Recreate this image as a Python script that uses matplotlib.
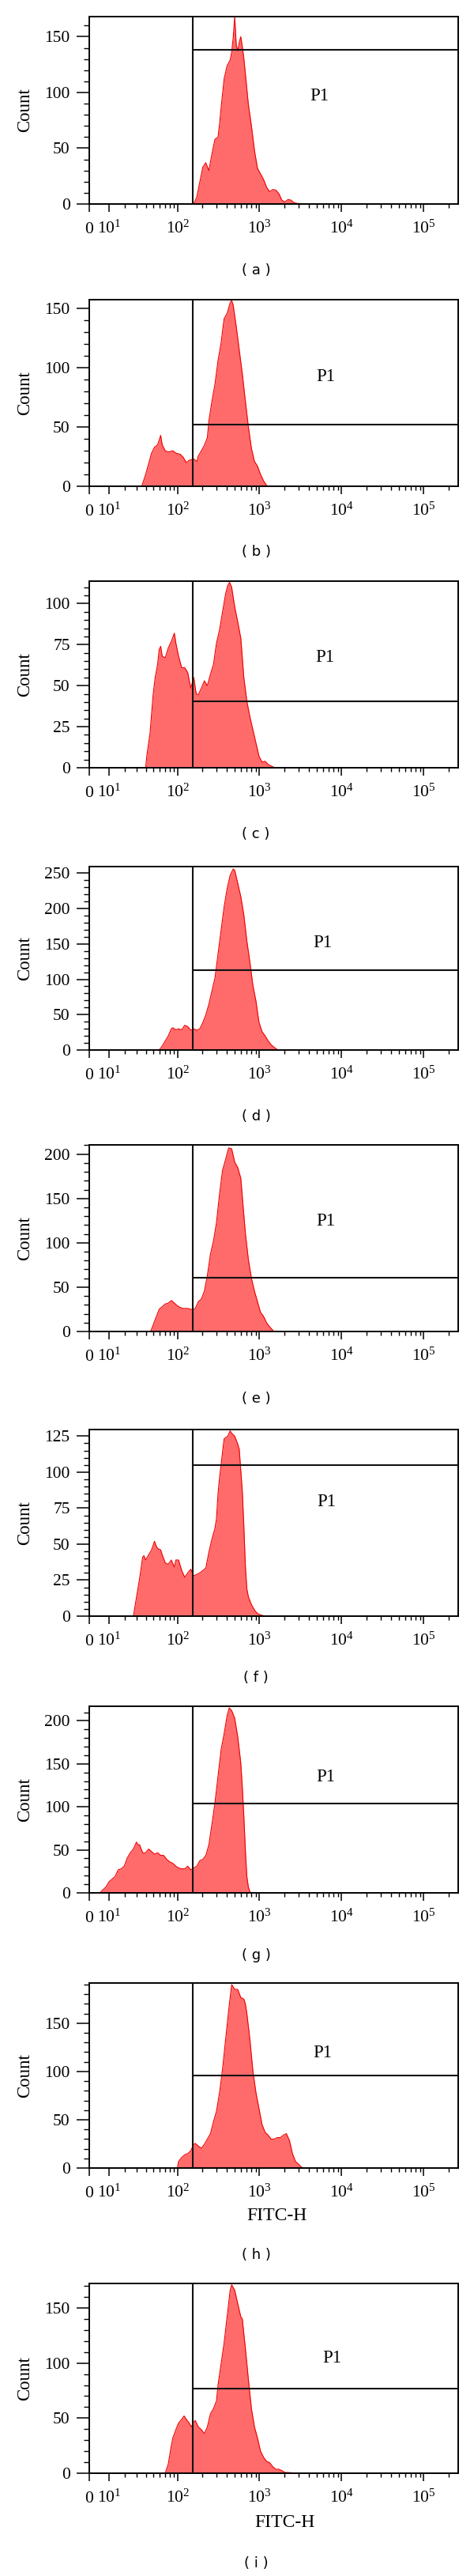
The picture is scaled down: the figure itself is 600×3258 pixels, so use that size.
import matplotlib
matplotlib.use('Agg')
import matplotlib.pyplot as plt
from matplotlib.ticker import FixedLocator, MultipleLocator, NullFormatter

plt.rcParams['font.family'] = ['Liberation Serif', 'DejaVu Serif']
plt.rcParams['mathtext.fontset'] = 'custom'
plt.rcParams['mathtext.rm'] = 'Liberation Serif'

# ---------------- data (FITC-H value, count) ----------------
fitc_a = [158, 172, 188, 204, 222, 242, 264, 287, 313, 327, 341, 371, 404, 440, 459, 479, 500, 522, 544, 568,
          593, 619, 645, 674, 734, 799, 870, 947, 1031, 1123, 1223, 1331, 1450, 1579, 1719, 1872, 2039, 2219,
          2417, 2632, 2866, 3397, 3699]
count_a = [0, 6, 20, 33, 37, 30, 45, 58, 60, 72, 86, 112, 124, 129, 136, 149, 168, 143, 137, 145,
           150, 141, 131, 117, 89, 70, 48, 32, 27, 22, 15, 11, 13, 12.5, 9.5, 3.5, 1.7, 4,
           3.5, 1.2, 0.5, 0.3, 0]

fitc_b = [35, 39.5, 43.2, 47.2, 51.5, 56.4, 59, 61.7, 64.5, 70.4, 76.8, 87.5, 95.4, 108, 117.6, 128, 139.4,
          158.4, 172.5, 180, 196, 213, 232, 242, 264, 287, 313, 341, 371, 404, 440, 459, 479, 522, 568, 619,
          674, 734, 799, 870, 947, 1031, 1123, 1223, 1276]
count_b = [0, 10, 19, 28, 33, 35, 39, 43, 35, 30, 29, 30, 28, 27, 24.5, 20, 22,
           23, 21, 25.6, 30, 34.5, 41, 55, 72, 86, 106, 121, 141.5, 146, 155, 157, 153, 135, 115, 95,
           72, 50, 32, 21, 17, 10, 4.5, 0.7, 0]

fitc_c = [39.5, 41.1, 45.1, 49.3, 52.5, 56.4, 59, 61.7, 64.5, 70.4, 76.8, 83.8, 91.4, 95.4, 103, 112.7, 122.7,
          133.6, 145.5, 158.4, 169.6, 180, 196, 213.4, 232, 253, 275.5, 300, 326.6, 355.6, 387.3, 411, 432.7,
          459, 500, 544, 593, 645.7, 703, 765.6, 833.6, 907.7, 988, 1076, 1172, 1276, 1450, 1579]
count_c = [0, 8, 21, 44, 55, 63, 72, 74, 68, 67, 73, 77, 82, 76, 68, 61, 61,
           58, 48.5, 55, 45, 44.5, 48.5, 53, 50, 57, 63, 76, 84, 95, 106, 111, 113,
           110, 98, 89, 79, 55, 40.5, 31, 23, 15, 7, 3.5, 4, 2, 0.6, 0]

fitc_d = [59, 64.5, 70.4, 76.8, 83.8, 87.5, 95.4, 103, 112.7, 122.7, 133.6, 145.5, 158.4, 172.5, 187.8, 204.5,
          222.6, 242.4, 264, 287.4, 313, 340.8, 371, 404, 440, 479, 500, 544, 593, 645.7, 703, 765.6, 833.6,
          907.7, 988, 1076, 1172, 1276, 1389, 1512, 1647, 1719]
count_d = [0, 5.6, 13, 20, 30, 31.5, 28.6, 30, 28.6, 35, 33, 28, 30, 28, 30, 39,
           50, 65, 83.6, 102, 135.6, 169, 202, 228, 247, 256, 254, 236, 217, 191, 154, 124, 91,
           69, 39, 26, 20, 13, 7.4, 3.7, 0.7, 0]

fitc_e = [45.9, 49.3, 53.9, 59, 64.5, 70.4, 76.8, 83.8, 91.4, 99.6, 108, 117.6, 133.6, 151.8, 165.2, 180, 196,
          213.4, 232, 253, 275.5, 300, 326.6, 355.6, 387.3, 421.7, 459, 500, 544, 593, 619, 674, 734, 799, 870,
          947, 1031, 1123, 1223, 1331, 1450, 1512]
count_e = [0, 7, 16, 25, 28, 31, 32, 35, 32, 29, 27, 26, 26, 24.7, 26, 33.6, 36.6,
           45.5, 63, 87, 102, 123, 155, 182, 194, 207, 206, 191, 185, 173, 152, 111, 81, 60, 45.5,
           33.6, 21.7, 17, 9.8, 5.3, 1.5, 0]

fitc_f = [26.8, 29.6, 32.7, 36, 37.5, 39.5, 43.2, 47.2, 51.5, 53.9, 56.4, 61.7, 64.5, 70.4, 76.8, 83.8, 91.4,
          95.4, 103, 112.7, 122.7, 133.6, 145.5, 158.4, 172.5, 187.8, 204.5, 222.6, 242.4, 264, 287.4, 300, 313,
          326.6, 340.8, 355.6, 371, 387.3, 411, 440, 459, 500, 544, 568, 593, 619, 645.7, 674, 703, 734, 799,
          870, 947, 1031, 1172]
count_f = [0, 13, 26, 41, 42, 39, 42.6, 46, 52, 49, 47, 46, 42.6, 37, 36, 39, 34,
           39, 39, 31.7, 27, 30, 32.6, 28, 29, 30, 31.7, 33.5, 44.5, 53.6, 61, 68, 85,
           96, 105, 114, 123, 124, 125, 128.7, 127, 125, 119.5, 116, 101, 86.6, 63, 35, 19, 13.4, 8,
           4.2, 1.8, 0.9, 0]

fitc_g = [5.1, 6.7, 8.2, 9.9, 11.6, 13.4, 15.3, 17.3, 19.4, 21.7, 24.1, 26.8, 29.6, 31.1, 32.7, 36, 39.5, 43.2,
          47.2, 51.5, 56.4, 61.7, 67.2, 73.4, 80.2, 87.5, 95.4, 103, 112.7, 122.7, 133.6, 145.5, 158.4, 172.5,
          187.8, 204.5, 222.6, 242.4, 264, 287.4, 313, 340.8, 371, 404, 429, 459, 500, 544, 593, 619, 645.7,
          674, 703, 734, 765.6, 799]
count_g = [0, 3.7, 6.7, 13, 16, 19, 26.7, 28, 31, 40.5, 46.6, 51, 59, 56, 56, 46.6, 46.6, 51,
           48, 45, 46.6, 43.6, 43.6, 39, 36, 34.4, 31, 29, 28, 28, 31, 26.7, 29, 31,
           37.4, 39, 43.6, 56, 80, 105, 135.6, 166, 184.7, 206, 215, 212, 203, 181.6, 151, 123, 89.6,
           49.7, 19, 6.7, 1.2, 0]

fitc_h = [99.6, 103, 112.7, 122.7, 133.6, 145.5, 158.4, 165.2, 180, 196, 213.4, 232, 253, 275.5, 300, 326.6,
          355.6, 387.3, 421.7, 459, 500, 544, 593, 645.7, 674, 703, 765.6, 833.6, 907.7, 988, 1076, 1172, 1276,
          1389, 1512, 1647, 1794, 1953, 2127, 2315, 2521, 2746, 2989, 3254, 3397]
count_h = [0, 6.8, 11, 13.7, 15, 17.8, 24.6, 25.5, 22.7, 20.5, 24.6, 30, 35.6, 48, 59, 78,
           102.7, 133, 163, 190, 185, 185, 176.6, 175, 170, 160, 133, 100, 78, 61.6, 45, 37, 34,
           30, 30, 31.5, 31.5, 34, 35.6, 28.7, 15, 6.8, 4, 0.8, 0]

fitc_i = [70.4, 76.8, 83.8, 87.5, 95.4, 103, 112.7, 120.6, 128, 139.4, 148, 158.4, 165.2, 180, 196, 213.4, 232,
          253, 275.5, 300, 313, 340.8, 371, 404, 440, 459, 500, 544, 593, 619, 674, 734, 799, 870, 947, 1031,
          1123, 1223, 1331, 1450, 1579, 1719, 1872, 2039, 2417, 2521]
count_i = [0, 8.4, 25, 32, 39.5, 45.5, 49, 52, 49, 45.5, 42, 46.6, 47.8, 42, 39.5, 36, 42,
           54, 58.6, 65.8, 80, 99, 118, 142, 166, 171, 166, 154, 142, 140, 113.6, 85, 58.6, 42, 32, 20,
           14.4, 10.8, 9.6, 6, 3.6, 3.6, 2.4, 0.7, 0.5, 0]

panel_letters = ['a', 'b', 'c', 'd', 'e', 'f', 'g', 'h', 'i']
fitc_all = [fitc_a, fitc_b, fitc_c, fitc_d, fitc_e, fitc_f, fitc_g, fitc_h, fitc_i]
count_all = [count_a, count_b, count_c, count_d, count_e, count_f, count_g, count_h, count_i]

y_max = [168, 157.6, 113.7, 259.3, 210.4, 129.6, 216.9, 191.6, 172.2]
y_major_step = [50, 50, 25, 50, 50, 25, 50, 50, 50]
y_minor_step = [10, 10, 5, 10, 10, 5, 10, 10, 10]
gate_y = [138, 52.4, 40.4, 113.3, 60.6, 104.7, 104, 95.8, 76.6]
gate_x = 154
x_max = 262144

x_major = [0, 10, 100, 1000, 10000, 100000]
x_major_labels = ['0', r'$\mathregular{10^{1}}$', r'$\mathregular{10^{2}}$', r'$\mathregular{10^{3}}$',
                  r'$\mathregular{10^{4}}$', r'$\mathregular{10^{5}}$']
x_minor = [20, 30, 40, 50, 60, 70, 80, 90,
           200, 300, 400, 500, 600, 700, 800, 900,
           2000, 3000, 4000, 5000, 6000, 7000, 8000, 9000,
           20000, 30000, 40000, 50000, 60000, 70000, 80000, 90000,
           200000]

# ---------------- layout (pixels) ----------------
W, H = 600, 3258
ax_left, ax_right = 113, 580
ax_tops = [21, 379, 735, 1096, 1448, 1808, 2158, 2508, 2888]
ax_bots = [258, 615, 971, 1328, 1684, 2044, 2394, 2742, 3128]
cap_y = [342, 698, 1055, 1412, 1769, 2122, 2473, 2852, 3242]
p1_x = [0.623, 0.640, 0.638, 0.632, 0.640, 0.642, 0.640, 0.632, 0.657]
p1_y = [0.574, 0.585, 0.589, 0.586, 0.589, 0.614, 0.619, 0.620, 0.608]
xlabel_pos = {7: (350, 2802), 8: (360, 3190)}

fill_col = '#FF6B6B'
edge_col = '#F00000'
line_col = '#111111'

fig = plt.figure(figsize=(W / 100, H / 100), dpi=100)

for k in range(9):
    top, bot = ax_tops[k], ax_bots[k]
    ax = fig.add_axes([ax_left / W, 1 - bot / H, (ax_right - ax_left) / W, (bot - top) / H])
    ax.set_xscale('asinh', linear_width=17)
    ax.set_xlim(0, x_max)
    ax.set_ylim(0, y_max[k])

    x = fitc_all[k]
    y = count_all[k]
    ax.fill_between(x, y, 0, color=fill_col, lw=0, zorder=1)
    ax.plot(x, y, color=edge_col, lw=0.8, zorder=2)

    ax.axvline(gate_x, color=line_col, lw=1.5, zorder=3)
    ax.plot([gate_x, x_max], [gate_y[k], gate_y[k]], color=line_col, lw=1.5, zorder=3)

    ax.text(p1_x[k], p1_y[k], 'P1', transform=ax.transAxes, ha='center', va='center', fontsize=16.5)

    for s in ax.spines.values():
        s.set_linewidth(1.4)
        s.set_color('black')

    ax.xaxis.set_major_locator(FixedLocator(x_major))
    ax.xaxis.set_minor_locator(FixedLocator(x_minor))
    ax.xaxis.set_minor_formatter(NullFormatter())
    ax.tick_params(axis='x', which='major', direction='out', length=7.2, width=1.1, labelbottom=False)
    ax.tick_params(axis='x', which='minor', direction='out', length=3.6, width=1.0, labelbottom=False)
    ax.yaxis.set_major_locator(MultipleLocator(y_major_step[k]))
    ax.yaxis.set_minor_locator(MultipleLocator(y_minor_step[k]))
    ax.tick_params(axis='y', which='major', direction='out', length=11.5, width=1.1, labelsize=15.5, pad=6)
    ax.tick_params(axis='y', which='minor', direction='out', length=5, width=1.0)

    for xv, lab in zip(x_major, x_major_labels):
        ax.annotate(lab, xy=(xv, 0), xycoords=('data', 'axes fraction'), xytext=(0, -37),
                    textcoords='offset pixels', ha='center', va='baseline', fontsize=15.5)

    fig.text(32 / W, 1 - (top + bot) / 2 / H, 'Count', rotation=90, ha='center', va='center', fontsize=16.5)
    fig.text(324 / W, 1 - cap_y[k] / H, '( %s )' % panel_letters[k], ha='center', va='center',
             fontsize=13, family='DejaVu Sans')
    if k in xlabel_pos:
        px, py = xlabel_pos[k]
        fig.text(px / W, 1 - py / H, 'FITC-H', ha='center', va='center', fontsize=17)

fig.savefig('out.png', dpi=100)
